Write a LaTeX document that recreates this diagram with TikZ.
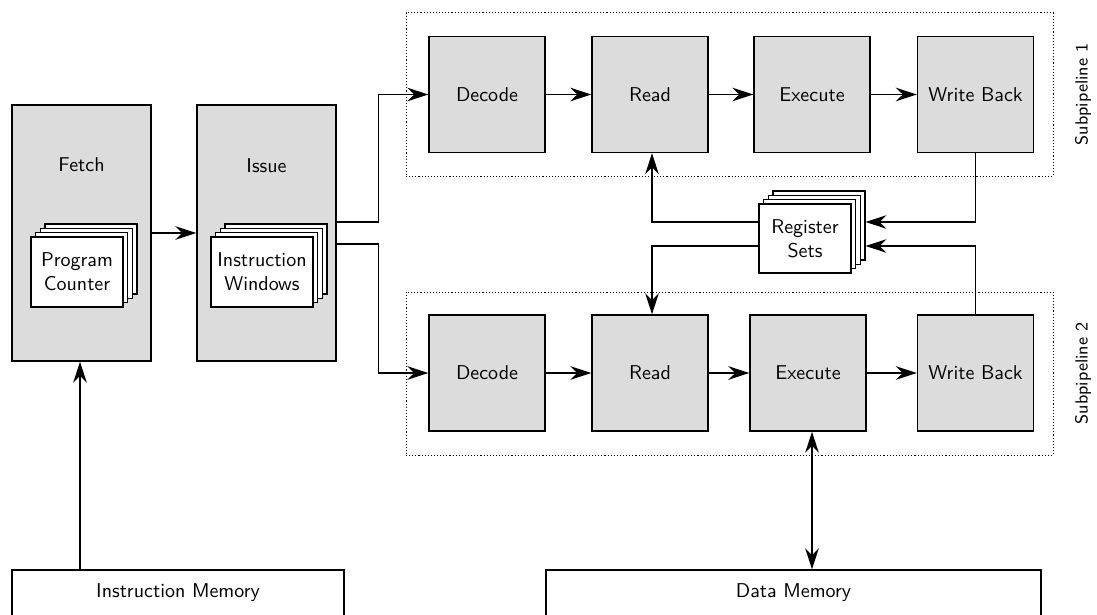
\documentclass[tikz,border=0pt]{standalone}
\usetikzlibrary{arrows.meta,calc}
\definecolor{stagefill}{RGB}{220,220,220}
\begin{document}
\begin{tikzpicture}[x=0.5pt,y=-0.5pt,
  every node/.style={font=\sffamily\fontsize{10}{12}\selectfont},
  stage/.style={draw,line width=0.7pt,fill=stagefill,minimum width=58pt,minimum height=58pt,inner sep=0pt},
  unit/.style={draw,line width=0.7pt,fill=stagefill,minimum width=69.5pt,minimum height=128pt,inner sep=0pt},
  sheet/.style={draw,line width=0.7pt,fill=white,minimum height=35pt,align=center,inner sep=1pt},
  membox/.style={draw,line width=0.7pt,minimum height=35pt,inner sep=0pt},
  group/.style={draw,line width=0.5pt,dash pattern=on 0.55pt off 1pt,minimum width=323.5pt,minimum height=81.5pt,inner sep=0pt},
  sidelabel/.style={rotate=90,font=\sffamily\fontsize{8.8}{10}\selectfont},
  arr/.style={line width=0.7pt,-{Stealth[length=10.5pt,width=6.8pt,inset=3.5pt]}},
  biarr/.style={line width=0.7pt,{Stealth[length=10.5pt,width=6.8pt,inset=3.5pt]}-{Stealth[length=10.5pt,width=6.8pt,inset=3.5pt]}}]
\useasboundingbox (0,0) rectangle (1097,615);
\clip (0,0) rectangle (1097,615);

% subpipeline frames
\node[group] (sp1) at (729.5,94.5) {};
\node[group] (sp2) at (729.5,373.5) {};
\node[sidelabel] (sp1lbl) at (1083,94.5) {Subpipeline 1};
\node[sidelabel] (sp2lbl) at (1083,373.5) {Subpipeline 2};

% fetch unit with program counter stack
\node[unit] (fetch) at (81.5,233) {};
\node[anchor=base] (fetchlbl) at (81.5,171) {Fetch};
\foreach \k in {3,2,1}
  \node[sheet,minimum width=46pt] (pc\k) at (77+4.6*\k,272-4.4*\k) {};
\node[sheet,minimum width=46pt] (pc0) at (77,272) {Program\\Counter};

% issue unit with instruction window stack
\node[unit] (issue) at (266.5,233) {};
\node[anchor=base] (issuelbl) at (266.5,172) {Issue};
\foreach \k in {3,2,1}
  \node[sheet,minimum width=51pt] (iw\k) at (262+4.6*\k,272-4.4*\k) {};
\node[sheet,minimum width=51pt] (iw0) at (262,272) {Instruction\\Windows};

% pipeline stages
\node[stage] (dec1) at (487,94.5) {Decode};
\node[stage] (read1) at (650,94.5) {Read};
\node[stage] (exe1) at (812,94.5) {Execute};
\node[stage] (wb1) at (975.5,94.5) {Write Back};
\node[stage] (dec2) at (487,373) {Decode};
\node[stage] (read2) at (650,373) {Read};
\node[stage] (exe2) at (808,373) {Execute};
\node[stage] (wb2) at (975.5,373) {Write Back};

% register sets stack
\foreach \k in {3,2,1}
  \node[sheet,minimum width=46pt,minimum height=34.5pt] (reg\k) at (805+4.6*\k,238.5-4.4*\k) {};
\node[sheet,minimum width=46pt,minimum height=34.5pt] (reg0) at (805,238.5) {Register\\Sets};

% memories
\node[membox,minimum width=166pt] (imem) at (178,605) {};
\node[anchor=base] (imemlbl) at (178,597) {Instruction Memory};
\node[membox,minimum width=247.5pt] (dmem) at (793.5,605) {};
\node[anchor=base] (dmemlbl) at (793.5,597) {Data Memory};

% connections
\draw[arr] (fetch) -- (issue);
\draw[arr] ([yshift=5.5pt]issue.east) -- ++(42,0) |- (dec1.west);
\draw[arr] ([yshift=-5.5pt]issue.east) -- ++(42,0) |- (dec2.west);
\draw[arr] (dec1) -- (read1);
\draw[arr] (read1) -- (exe1);
\draw[arr] (exe1) -- (wb1);
\draw[arr] (dec2) -- (read2);
\draw[arr] (read2) -- (exe2);
\draw[arr] (exe2) -- (wb2);
\draw[arr] ([yshift=8.25pt]reg0.west) -| ([xshift=1pt]read1.south);
\draw[arr] ([yshift=-3.75pt]reg0.west) -| ([xshift=1pt]read2.north);
\draw[arr] (wb1.south) |- ([yshift=1.65pt]reg3.east);
\draw[arr] (wb2.north) |- ([yshift=-10.35pt]reg3.east);
\draw[arr] ([xshift=-0.75pt]fetch.south |- imem.north) -- ([xshift=-0.75pt]fetch.south);
\draw[biarr] ([xshift=2pt]exe2.south) -- ([xshift=2pt]exe2.south |- dmem.north);
\end{tikzpicture}
\end{document}
